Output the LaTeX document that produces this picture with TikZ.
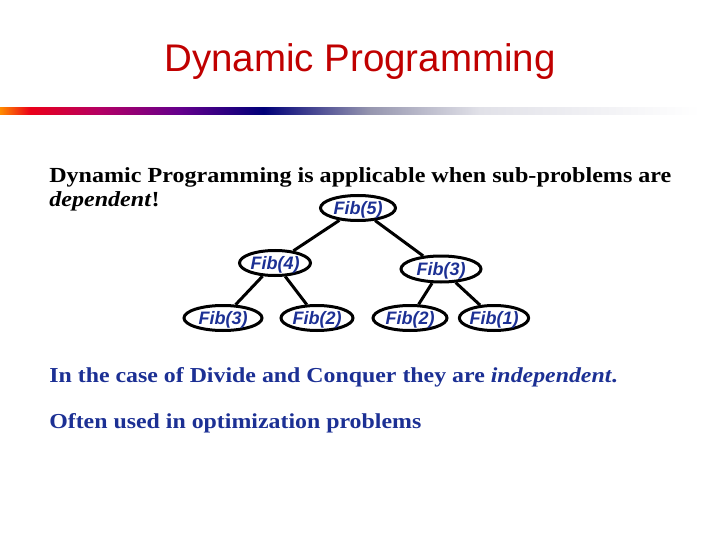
\documentclass[tikz,border=0pt]{standalone}
\usepackage{fontspec}
\setmainfont{Liberation Serif}[FakeStretch=1.12]
\setsansfont{Liberation Sans}
\usetikzlibrary{shapes.geometric}

\definecolor{titlered}{RGB}{192,0,0}
\definecolor{fibblue}{RGB}{28,48,148}
\definecolor{barorange}{RGB}{255,140,0}
\definecolor{barred}{RGB}{235,0,25}
\definecolor{barmagenta}{RGB}{180,0,100}
\definecolor{barpurple}{RGB}{100,0,140}
\definecolor{barnavy}{RGB}{0,0,120}
\definecolor{bargrey}{RGB}{150,150,175}
\definecolor{barlight}{RGB}{225,225,232}
\pgfdeclarehorizontalshading{titlebar}{100bp}{color(0bp)=(barorange); color(25bp)=(barorange);
  color(27.1bp)=(barred); color(31.9bp)=(barmagenta); color(37.5bp)=(barpurple);
  color(43.3bp)=(barnavy); color(50.7bp)=(bargrey); color(58.3bp)=(barlight);
  color(73.6bp)=(white); color(100bp)=(white)}

\begin{document}
\begin{tikzpicture}[x=1pt, y=-1pt, semithick,
  fib/.style={ellipse, draw, line width=3pt, inner sep=0pt, minimum width=75pt,
    minimum height=25pt, text height=13pt, text depth=0pt, text=fibblue,
    font=\fontsize{18}{18}\selectfont\sffamily\bfseries\itshape},
  tree/.style={line width=3pt},
  body/.style={anchor=base west, inner sep=0pt, font=\fontsize{21.5}{24}\selectfont\bfseries},
  note/.style={body, text=fibblue, font=\fontsize{21.3}{24}\selectfont\bfseries}]
  \useasboundingbox (0,0) rectangle (720,540);

  \node[anchor=base, inner sep=0pt, text=titlered, font=\fontsize{38.5}{40}\selectfont\sffamily]
    (title) at (360,72) {Dynamic Programming};
  \shade[shading=titlebar] (0,108) rectangle (720,115);

  \node[body] (line1) at (49,183) {Dynamic Programming is applicable when sub-problems are};
  \node[body] (line2) at (49,207) {\textit{dependent}!};

  \node[fib] (A) at (358,208) {Fib(5)};
  \node[fib, minimum width=71pt] (B) at (275,263) {Fib(4)};
  \node[fib, minimum width=80pt, minimum height=26pt] (C) at (441,269) {Fib(3)};
  \node[fib, minimum width=78pt] (D) at (223,318) {Fib(3)};
  \node[fib, minimum width=72pt] (E) at (317,318) {Fib(2)};
  \node[fib, minimum width=74pt] (F) at (410,318) {Fib(2)};
  \node[fib, minimum width=68pt] (G) at (494,318) {Fib(1)};

  \draw[tree] (A) -- (B);
  \draw[tree] (A) -- (C);
  \draw[tree] (B) -- (D);
  \draw[tree] (B) -- (E);
  \draw[tree] (C) -- (F);
  \draw[tree] (C) -- (G);

  \node[note] (line3) at (49,382) {In the case of Divide and Conquer they are \textit{independent}.};
  \node[note] (line4) at (49,428) {Often used in optimization problems};

\end{tikzpicture}
\end{document}
